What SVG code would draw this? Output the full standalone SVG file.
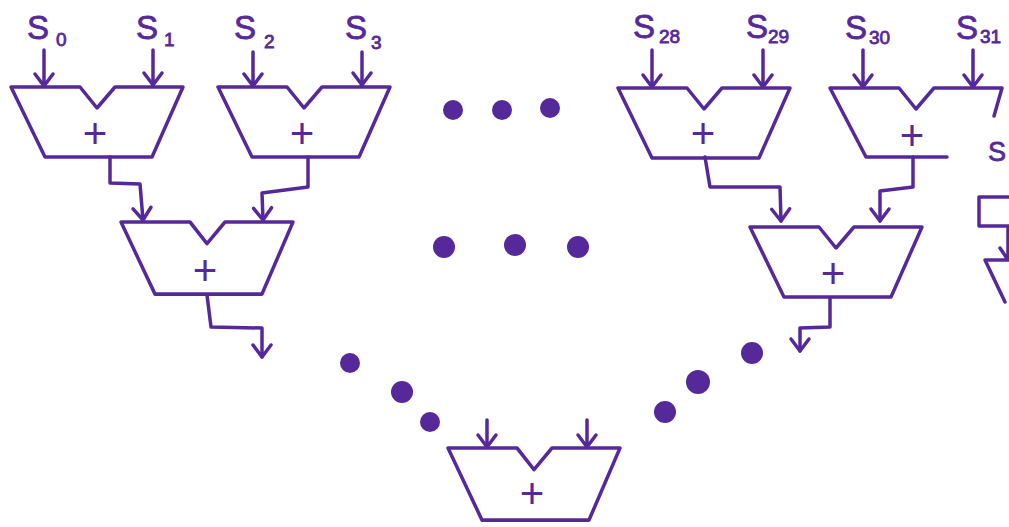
<svg xmlns="http://www.w3.org/2000/svg" xmlns:xlink="http://www.w3.org/1999/xlink" width="1009" height="527" viewBox="0 0 1009 527">
<style>
.ln{fill:none;stroke:#55299a;stroke-width:3.5;stroke-linecap:round;stroke-linejoin:round}
.lb{font-family:"Liberation Sans",Arial,sans-serif;fill:#55299a;stroke:#55299a;stroke-width:0.8}
.s{font-size:33px}
.sub{font-size:19px}
.plus{font-family:"Liberation Sans",Arial,sans-serif;font-size:42px;fill:#55299a;text-anchor:middle}
.dot{fill:#55299a}
</style>
<defs>
<marker id="ah" markerUnits="userSpaceOnUse" markerWidth="30" markerHeight="30" refX="0" refY="0" viewBox="-15 -15 30 30" orient="auto" overflow="visible">
<path d="M-12,-9 L0,0 L-12,9" fill="none" stroke="#55299a" stroke-width="3.5" stroke-linecap="round" stroke-linejoin="round"/>
</marker>
<path id="adder" d="M0,0 L69,0 L86,21 L104,0 L172,0 L141,70 L34,70 Z"/>
</defs>
<rect width="1009" height="527" fill="#ffffff"/>

<g id="label-s0" class="lb"><text class="s" x="27" y="39">S</text><text class="sub" x="56" y="46">0</text></g>
<g id="label-s1" class="lb"><text class="s" x="136" y="39">S</text><text class="sub" x="164" y="46">1</text></g>
<g id="label-s2" class="lb"><text class="s" x="234" y="39">S</text><text class="sub" x="264" y="48">2</text></g>
<g id="label-s3" class="lb"><text class="s" x="345" y="39">S</text><text class="sub" x="371" y="49">3</text></g>
<g id="label-s28" class="lb"><text class="s" x="633" y="38">S</text><text class="sub" x="659" y="43">28</text></g>
<g id="label-s29" class="lb"><text class="s" x="746" y="38">S</text><text class="sub" x="768" y="43">29</text></g>
<g id="label-s30" class="lb"><text class="s" x="845" y="39">S</text><text class="sub" x="869" y="44">30</text></g>
<g id="label-s31" class="lb"><text class="s" x="956" y="39">S</text><text class="sub" x="980" y="43">31</text></g>

<g id="adder-a0"><use xlink:href="#adder" href="#adder" class="ln" transform="translate(11,87)"/><text class="plus" x="95" y="148">+</text></g>
<g id="adder-a1"><use xlink:href="#adder" href="#adder" class="ln" transform="translate(218,87)"/><text class="plus" x="302" y="148">+</text></g>
<g id="adder-a14"><use xlink:href="#adder" href="#adder" class="ln" transform="translate(618,88)"/><text class="plus" x="703" y="148">+</text></g>
<g id="adder-a15"><path class="ln" d="M994,116 L1002,88 L934,88 L916,109 L899,88 L830,88 L866,157 L947,157"/><text class="plus" x="912" y="150">+</text></g>
<g id="adder-b0"><use xlink:href="#adder" href="#adder" class="ln" transform="translate(121,222) scale(1,1.03)"/><text class="plus" x="205" y="285">+</text></g>
<g id="adder-b7"><use xlink:href="#adder" href="#adder" class="ln" transform="translate(750,227)"/><text class="plus" x="833" y="288">+</text></g>
<g id="adder-final"><use xlink:href="#adder" href="#adder" class="ln" transform="translate(448,448) scale(1,1.03)"/><text class="plus" x="532" y="508">+</text></g>

<g id="partial-right">
<text class="lb" x="988" y="161" font-size="27">S</text>
<rect class="ln" x="979" y="197" width="45" height="29"/>
<path class="ln" d="M1008,228 L1008,260 M1000,248 L1008,260 M1012,260 L985,260 L1005,302"/>
</g>

<g id="connectors" class="ln" marker-end="url(#ah)">
<path d="M44,50 L44,86"/>
<path d="M153,50 L153,85"/>
<path d="M253,52 L253,86"/>
<path d="M362,52 L362,85"/>
<path d="M652,50 L652,87"/>
<path d="M763,50 L763,87"/>
<path d="M863,50 L863,87"/>
<path d="M973,50 L973,87"/>
<path d="M110,157 L110,183 L140,184 L143,220"/>
<path d="M308,157 L308,187 L262,193 L263,220"/>
<path d="M207,295 L211,327 L262,328 L262,357"/>
<path d="M705,157 L710,187 L780,187 L781,221"/>
<path d="M913,157 L913,187 L880,191 L880,221"/>
<path d="M830,298 L830,327 L800,328 L800,351"/>
<path d="M487,420 L487,447"/>
<path d="M587,420 L587,447"/>
</g>

<g id="ellipses">
<circle class="dot" cx="453" cy="110" r="10"/>
<circle class="dot" cx="502" cy="110" r="10"/>
<circle class="dot" cx="550" cy="108" r="10"/>
<circle class="dot" cx="444" cy="247" r="11"/>
<circle class="dot" cx="515" cy="245" r="11"/>
<circle class="dot" cx="578" cy="247" r="11"/>
<circle class="dot" cx="350" cy="363" r="10"/>
<circle class="dot" cx="402" cy="392" r="11"/>
<circle class="dot" cx="430" cy="422" r="10"/>
<circle class="dot" cx="665" cy="412" r="11"/>
<circle class="dot" cx="698" cy="382" r="12"/>
<circle class="dot" cx="752" cy="353" r="11"/>
</g>
</svg>
